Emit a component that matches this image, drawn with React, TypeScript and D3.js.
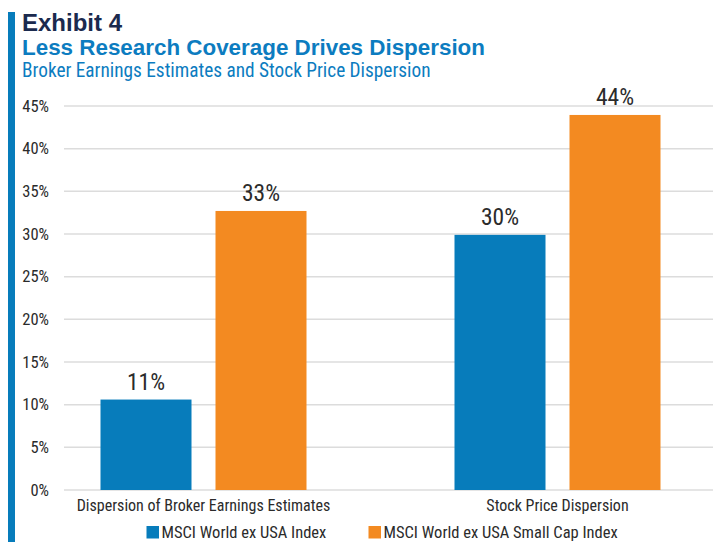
import React from "react";
import * as d3 from "d3";

const categories = ["Dispersion of Broker Earnings Estimates", "Stock Price Dispersion"];
const seriesNames = ["MSCI World ex USA Index", "MSCI World ex USA Small Cap Index"];
const seriesColors = ["#077cbb", "#f38a21"];
const broadValues = [10.6, 29.9];
const smallCapValues = [32.7, 43.95];
const valueLabels = [["11%", "30%"], ["33%", "44%"]];
const yTicks = [0, 5, 10, 15, 20, 25, 30, 35, 40, 45];

const W = 713;
const H = 542;
const narrow = "'Liberation Sans Narrow', 'Roboto Condensed', 'Arial Narrow', 'Liberation Sans', sans-serif";
const sans = "'Liberation Sans', Arial, sans-serif";
const textColor = "#2b2b2b";

export default function App() {
  const y = d3.scaleLinear().domain([0, 45]).range([490, 106]);
  const x = d3.scaleBand<string>().domain(categories).range([26.5, 734.5]).padding(0);
  const inner = d3.scaleBand<number>().domain([0, 1]).range([-103, 103]).paddingInner(24 / 115);
  const series = [broadValues, smallCapValues];

  return (
    <svg width={W} height={H} style={{ position: "absolute", left: 0, top: 0, background: "#fff" }}>
      <rect x={8} y={12} width={7} height={H - 12} fill="#077cbb" />
      <text x={22} y={31} fontFamily={sans} fontWeight="bold" fontSize={24} fill="#1b2a4e">Exhibit 4</text>
      <text x={22} y={54.5} fontFamily={sans} fontWeight="bold" fontSize={22.4} fill="#0c7cc0">Less Research Coverage Drives Dispersion</text>
      <text x={22} y={77} fontFamily={narrow} fontSize={19.3} fill="#0c7cc0">Broker Earnings Estimates and Stock Price Dispersion</text>

      {yTicks.map((t) => (
        <g key={t}>
          <line x1={64} x2={713} y1={y(t)} y2={y(t)} stroke="#dcdcdc" strokeWidth={1.5} />
          <text x={49} y={y(t) + 5.5} textAnchor="end" fontFamily={narrow} fontSize={16.5} fill={textColor}>{t}%</text>
        </g>
      ))}

      {series.map((vals, si) =>
        categories.map((c, ci) => {
          const cx = (x(c) as number) + x.bandwidth() / 2;
          const bx = cx + (inner(si) as number);
          const v = vals[ci];
          return (
            <g key={`${si}-${ci}`}>
              <rect x={bx} y={y(v)} width={inner.bandwidth()} height={y(0) - y(v)} fill={seriesColors[si]} />
              <text x={bx + inner.bandwidth() / 2} y={y(v) - 10} textAnchor="middle" fontFamily={narrow} fontSize={23.5} fill={textColor}>{valueLabels[si][ci]}</text>
            </g>
          );
        })
      )}

      {categories.map((c) => (
        <text key={c} x={(x(c) as number) + x.bandwidth() / 2} y={511} textAnchor="middle" fontFamily={narrow} fontSize={16} fill={textColor}>{c}</text>
      ))}

      {seriesNames.map((n, i) => {
        const lx = [146.5, 368.5][i];
        return (
          <g key={n}>
            <rect x={lx} y={526} width={12.5} height={12.5} fill={seriesColors[i]} />
            <text x={lx + 15} y={537.5} fontFamily={narrow} fontSize={16.5} fill={textColor}>{n}</text>
          </g>
        );
      })}
    </svg>
  );
}
